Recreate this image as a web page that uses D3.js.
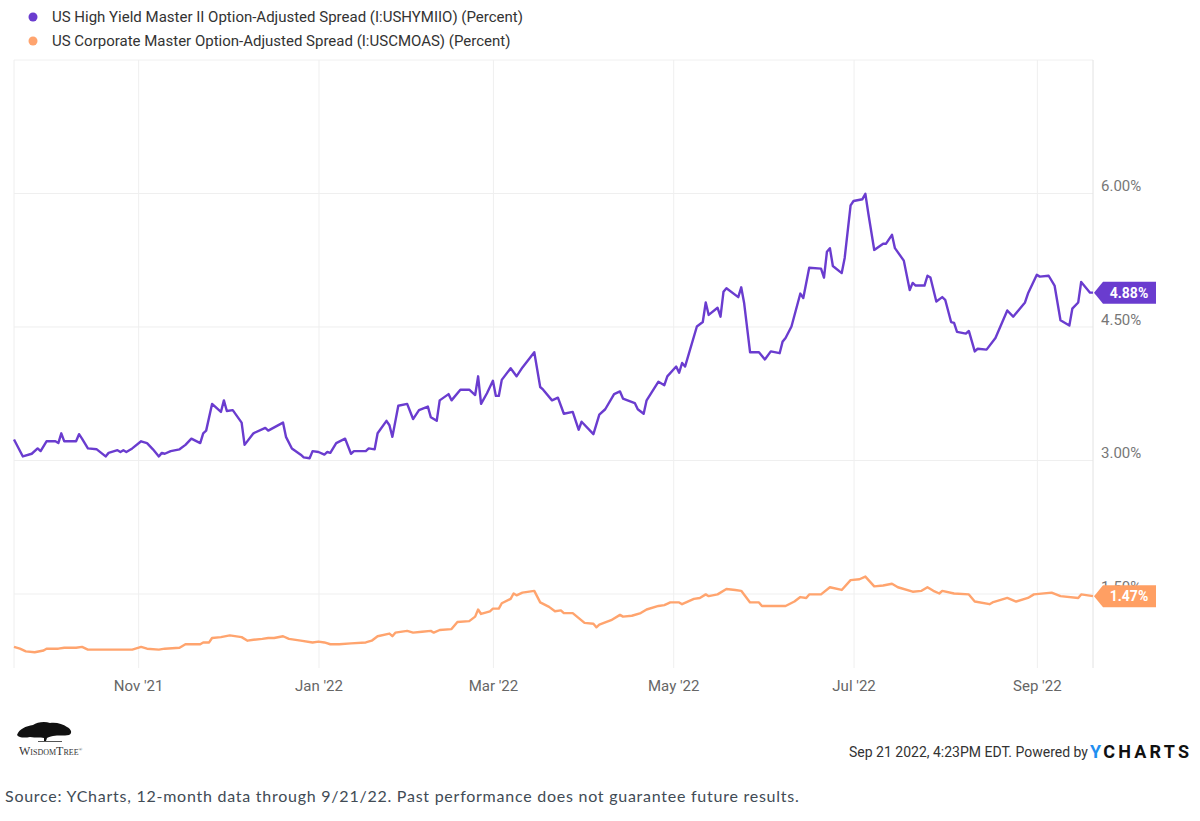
<!DOCTYPE html>
<html>
<head>
<meta charset="utf-8">
<script src="https://cdn.jsdelivr.net/npm/d3@7"></script>
<style>
  body { margin: 0; background: #fff; }
  svg { display: block; font-family: Roboto, "Noto Sans", sans-serif; }
</style>
</head>
<body>
<div id="wrapper"></div>
<script>
// 1. Data

const seriesNames = [
  "US High Yield Master II Option-Adjusted Spread (I:USHYMIIO) (Percent)",
  "US Corporate Master Option-Adjusted Spread (I:USCMOAS) (Percent)",
]

const hyDates = [
  "2021-09-20","2021-09-23","2021-09-26","2021-09-28","2021-09-29","2021-10-01","2021-10-04","2021-10-05",
  "2021-10-06","2021-10-07","2021-10-11","2021-10-12","2021-10-13","2021-10-15","2021-10-18","2021-10-21",
  "2021-10-22","2021-10-25","2021-10-26","2021-10-27","2021-10-28","2021-10-30","2021-11-02","2021-11-04",
  "2021-11-06","2021-11-08","2021-11-09","2021-11-10","2021-11-12","2021-11-15","2021-11-17","2021-11-19",
  "2021-11-22","2021-11-23","2021-11-24","2021-11-26","2021-11-29","2021-11-30","2021-12-01","2021-12-03",
  "2021-12-06","2021-12-07","2021-12-10","2021-12-14","2021-12-15","2021-12-20","2021-12-21","2021-12-23",
  "2021-12-26","2021-12-27","2021-12-29","2021-12-30","2022-01-01","2022-01-03","2022-01-04","2022-01-05",
  "2022-01-07","2022-01-10","2022-01-12","2022-01-13","2022-01-17","2022-01-18","2022-01-20","2022-01-21",
  "2022-01-24","2022-01-25","2022-01-26","2022-01-28","2022-01-31","2022-02-02","2022-02-04","2022-02-07",
  "2022-02-08","2022-02-10","2022-02-11","2022-02-14","2022-02-15","2022-02-18","2022-02-21","2022-02-23",
  "2022-02-24","2022-02-25","2022-02-27","2022-03-01","2022-03-02","2022-03-03","2022-03-04","2022-03-07",
  "2022-03-09","2022-03-11","2022-03-15","2022-03-17","2022-03-18","2022-03-21","2022-03-23","2022-03-25",
  "2022-03-28","2022-03-30","2022-03-31","2022-04-04","2022-04-06","2022-04-08","2022-04-11","2022-04-13",
  "2022-04-14","2022-04-18","2022-04-19","2022-04-21","2022-04-22","2022-04-26","2022-04-28","2022-04-29",
  "2022-05-02","2022-05-03","2022-05-04","2022-05-05","2022-05-09","2022-05-11","2022-05-12","2022-05-13",
  "2022-05-16","2022-05-17","2022-05-18","2022-05-19","2022-05-23","2022-05-24","2022-05-25","2022-05-27",
  "2022-05-30","2022-06-01","2022-06-03","2022-06-06","2022-06-07","2022-06-08","2022-06-10","2022-06-13",
  "2022-06-14","2022-06-16","2022-06-20","2022-06-21","2022-06-22","2022-06-23","2022-06-24","2022-06-27",
  "2022-06-28","2022-06-30","2022-07-01","2022-07-04","2022-07-05","2022-07-06","2022-07-08","2022-07-11",
  "2022-07-12","2022-07-14","2022-07-15","2022-07-18","2022-07-20","2022-07-21","2022-07-22","2022-07-25",
  "2022-07-26","2022-07-27","2022-07-29","2022-07-31","2022-08-01","2022-08-03","2022-08-04","2022-08-05",
  "2022-08-08","2022-08-09","2022-08-11","2022-08-12","2022-08-15","2022-08-18","2022-08-22","2022-08-24",
  "2022-08-28","2022-08-29","2022-09-01","2022-09-02","2022-09-05","2022-09-07","2022-09-09","2022-09-12",
  "2022-09-13","2022-09-15","2022-09-16","2022-09-19","2022-09-20",
]
const hyValues = [
  3.23,3.04,3.07,3.13,3.10,3.21,3.21,3.19,
  3.30,3.21,3.21,3.29,3.24,3.13,3.12,3.04,
  3.08,3.11,3.09,3.11,3.09,3.13,3.21,3.19,
  3.12,3.04,3.08,3.07,3.10,3.12,3.17,3.24,
  3.19,3.30,3.33,3.63,3.54,3.67,3.55,3.56,
  3.42,3.17,3.30,3.36,3.33,3.42,3.26,3.13,
  3.06,3.03,3.02,3.10,3.09,3.06,3.09,3.08,
  3.19,3.24,3.07,3.10,3.10,3.13,3.12,3.30,
  3.44,3.39,3.26,3.61,3.63,3.46,3.56,3.60,
  3.48,3.44,3.67,3.74,3.67,3.79,3.79,3.73,
  3.94,3.63,3.75,3.89,3.72,3.72,3.90,4.03,
  3.94,4.04,4.21,3.82,3.79,3.67,3.70,3.52,
  3.54,3.34,3.43,3.29,3.51,3.57,3.74,3.77,
  3.69,3.64,3.57,3.52,3.67,3.88,3.84,3.94,
  4.05,3.98,4.09,4.05,4.50,4.55,4.77,4.63,
  4.71,4.61,4.89,4.93,4.83,4.94,4.76,4.21,
  4.21,4.13,4.22,4.20,4.33,4.37,4.50,4.87,
  4.82,5.16,5.15,5.05,5.34,5.38,5.18,5.10,
  5.27,5.86,5.91,5.93,5.99,5.77,5.36,5.43,
  5.43,5.53,5.38,5.24,4.91,4.99,4.96,4.96,
  5.07,5.05,4.78,4.83,4.80,4.55,4.54,4.44,
  4.42,4.45,4.22,4.25,4.24,4.37,4.68,4.61,
  4.77,4.87,5.08,5.06,5.07,4.96,4.57,4.51,
  4.70,4.77,5.00,4.88,4.88,
]

const igDates = [
  "2021-09-20","2021-09-22","2021-09-24","2021-09-27","2021-09-30","2021-10-01","2021-10-05","2021-10-07",
  "2021-10-11","2021-10-13","2021-10-15","2021-10-30","2021-11-02","2021-11-04","2021-11-08","2021-11-10",
  "2021-11-15","2021-11-17","2021-11-22","2021-11-23","2021-11-25","2021-11-26","2021-11-29","2021-12-02",
  "2021-12-06","2021-12-08","2021-12-10","2021-12-13","2021-12-15","2021-12-17","2021-12-20","2021-12-22",
  "2021-12-26","2021-12-30","2022-01-01","2022-01-03","2022-01-05","2022-01-08","2022-01-12","2022-01-17",
  "2022-01-19","2022-01-21","2022-01-25","2022-01-26","2022-01-27","2022-01-31","2022-02-02","2022-02-05",
  "2022-02-08","2022-02-09","2022-02-11","2022-02-15","2022-02-17","2022-02-21","2022-02-23","2022-02-24",
  "2022-02-25","2022-02-28","2022-03-01","2022-03-03","2022-03-04","2022-03-07","2022-03-08","2022-03-09",
  "2022-03-11","2022-03-15","2022-03-17","2022-03-20","2022-03-22","2022-03-24","2022-03-25","2022-03-28",
  "2022-04-01","2022-04-04","2022-04-05","2022-04-06","2022-04-10","2022-04-13","2022-04-14","2022-04-17",
  "2022-04-20","2022-04-22","2022-04-26","2022-04-28","2022-04-30","2022-05-03","2022-05-04","2022-05-08",
  "2022-05-10","2022-05-12","2022-05-13","2022-05-16","2022-05-19","2022-05-22","2022-05-24","2022-05-27",
  "2022-05-30","2022-05-31","2022-06-05","2022-06-08","2022-06-11","2022-06-13","2022-06-15","2022-06-16",
  "2022-06-20","2022-06-23","2022-06-27","2022-06-30","2022-07-03","2022-07-05","2022-07-08","2022-07-11",
  "2022-07-14","2022-07-16","2022-07-21","2022-07-24","2022-07-26","2022-07-28","2022-07-30","2022-07-31",
  "2022-08-04","2022-08-09","2022-08-11","2022-08-16","2022-08-17","2022-08-22","2022-08-25","2022-08-29",
  "2022-08-31","2022-09-06","2022-09-09","2022-09-15","2022-09-16","2022-09-20",
]
const igValues = [
  0.90,0.88,0.85,0.84,0.86,0.88,0.88,0.89,
  0.89,0.90,0.87,0.87,0.90,0.88,0.87,0.88,
  0.89,0.93,0.93,0.95,0.95,1.00,1.01,1.03,
  1.01,0.97,0.98,0.99,1.00,1.00,1.02,0.99,
  0.97,0.95,0.96,0.95,0.93,0.93,0.94,0.95,
  0.97,1.02,1.05,1.02,1.06,1.08,1.06,1.07,
  1.08,1.06,1.09,1.10,1.18,1.19,1.24,1.32,
  1.27,1.30,1.33,1.33,1.39,1.44,1.50,1.48,
  1.51,1.53,1.40,1.35,1.30,1.31,1.28,1.28,
  1.17,1.16,1.12,1.15,1.20,1.26,1.24,1.25,
  1.28,1.32,1.36,1.37,1.40,1.40,1.38,1.44,
  1.45,1.49,1.47,1.49,1.55,1.54,1.53,1.40,
  1.40,1.36,1.36,1.36,1.41,1.46,1.45,1.49,
  1.49,1.57,1.54,1.65,1.66,1.69,1.58,1.59,
  1.61,1.57,1.52,1.53,1.57,1.53,1.50,1.53,
  1.50,1.49,1.41,1.38,1.40,1.45,1.41,1.45,
  1.49,1.51,1.47,1.45,1.49,1.47,
]

const seriesColors = ["#6a3ccf", "#ffa46e"]
const tagColors = ["#6a3ccf", "#ff9f63"]
const yTicks = [1.5, 3, 4.5, 6]
const xTicks = ["2021-11-01", "2022-01-01", "2022-03-01", "2022-05-01", "2022-07-01", "2022-09-01"]
const xDomain = ["2021-09-20", "2022-09-20"]
const yDomain = [0.663, 7.494]

async function drawChart() {

  const parseDate = d3.utcParse("%Y-%m-%d")
  const series = [
    { name: seriesNames[0], color: seriesColors[0], tag: tagColors[0],
      points: hyDates.map((d, i) => ({ date: parseDate(d), value: hyValues[i] })) },
    { name: seriesNames[1], color: seriesColors[1], tag: tagColors[1],
      points: igDates.map((d, i) => ({ date: parseDate(d), value: igValues[i] })) },
  ]

  // 2. Chart dimensions

  let dimensions = {
    width: 1200,
    height: 821,
    margin: { top: 60, right: 107, bottom: 153, left: 14 },
  }
  dimensions.boundedWidth = dimensions.width - dimensions.margin.left - dimensions.margin.right
  dimensions.boundedHeight = dimensions.height - dimensions.margin.top - dimensions.margin.bottom

  // 3. Canvas

  const wrapper = d3.select("#wrapper")
    .append("svg")
      .attr("width", dimensions.width)
      .attr("height", dimensions.height)

  const bounds = wrapper.append("g")
      .attr("transform", `translate(${dimensions.margin.left}, ${dimensions.margin.top})`)

  // 4. Scales

  const xScale = d3.scaleUtc()
    .domain(xDomain.map(parseDate))
    .range([0, dimensions.boundedWidth])

  const yScale = d3.scaleLinear()
    .domain(yDomain)
    .range([dimensions.boundedHeight, 0])

  // frame lines
  bounds.append("line")
      .attr("x1", 0).attr("x2", dimensions.boundedWidth)
      .attr("y1", 0).attr("y2", 0)
      .attr("stroke", "#f0f0f0")
  bounds.append("line")
      .attr("x1", 0).attr("x2", 0)
      .attr("y1", 0).attr("y2", dimensions.boundedHeight)
      .attr("stroke", "#eeeeee")

  // 5. Axes / gridlines

  const xAxisGenerator = d3.axisBottom(xScale)
    .tickValues(xTicks.map(parseDate))
    .tickSize(dimensions.boundedHeight)
    .tickPadding(12)
    .tickFormat(d3.utcFormat("%b '%y"))

  const xAxis = bounds.append("g")
      .attr("class", "x-axis")
      .call(xAxisGenerator)
  xAxis.select(".domain").remove()
  xAxis.selectAll(".tick line").attr("stroke", "#efefef")
  xAxis.selectAll(".tick text")
      .attr("fill", "#666")
      .style("font-size", "15px")
      .style("font-family", "Roboto, sans-serif")

  const yAxisGenerator = d3.axisRight(yScale)
    .tickValues(yTicks)
    .tickSize(-dimensions.boundedWidth)
    .tickPadding(8)
    .tickFormat(d => d3.format(".2f")(d) + "%")

  const yAxis = bounds.append("g")
      .attr("class", "y-axis")
      .attr("transform", `translate(${dimensions.boundedWidth}, 0)`)
      .call(yAxisGenerator)
  yAxis.select(".domain").remove()
  yAxis.selectAll(".tick line").attr("stroke", "#efefef")
  yAxis.selectAll(".tick text")
      .attr("x", 8)
      .attr("y", -7)
      .attr("fill", "#777")
      .style("font-size", "15px")
      .style("font-family", "Roboto, sans-serif")

  bounds.append("line")
      .attr("x1", dimensions.boundedWidth).attr("x2", dimensions.boundedWidth)
      .attr("y1", 0).attr("y2", dimensions.boundedHeight)
      .attr("stroke", "#e2e2e2")

  // 6. Lines

  const lineGenerator = d3.line()
    .x(d => xScale(d.date))
    .y(d => yScale(d.value))

  bounds.selectAll(".series")
    .data(series.slice().reverse())
    .join("path")
      .attr("class", "series")
      .attr("d", d => lineGenerator(d.points))
      .attr("fill", "none")
      .attr("stroke", d => d.color)
      .attr("stroke-width", 2.4)
      .attr("stroke-linejoin", "round")

  // last-value tags
  const tags = bounds.selectAll(".tag")
    .data(series)
    .join("g")
      .attr("class", "tag")
      .attr("transform", d => {
        const last = d.points[d.points.length - 1]
        return `translate(${xScale(last.date)}, ${yScale(last.value)})`
      })

  tags.append("path")
      .attr("d", "M1,0 L10,-11 L63,-11 L63,11 L10,11 Z")
      .attr("fill", d => d.tag)

  tags.append("text")
      .attr("x", 36)
      .attr("dy", "0.35em")
      .attr("text-anchor", "middle")
      .attr("fill", "#fff")
      .style("font-size", "14px")
      .style("font-weight", "bold")
      .text(d => d3.format(".2f")(d.points[d.points.length - 1].value) + "%")

  // 7. Legend

  const legend = wrapper.append("g")
      .attr("class", "legend")
    .selectAll("g")
    .data(series)
    .join("g")
      .attr("transform", (d, i) => `translate(33, ${17 + i * 24})`)

  legend.append("circle")
      .attr("r", 4.5)
      .attr("fill", d => d.color)

  legend.append("text")
      .attr("x", 19)
      .attr("dy", "0.35em")
      .attr("fill", "#333")
      .style("font-size", "15px")
      .text(d => d.name)

  // 8. Footer

  const logo = wrapper.append("g").attr("class", "wisdomtree")
  logo.append("path")
      .attr("d", "M17,735 C19,729 26,726 33,725 C37,722 45,721 50,723 C56,722 63,724 67,727 C71,729 73,733 69,735 C64,736 58,735 53,736 C50,737 48,737 47,738 L46,741 L44,741 L44,738 C40,737 36,738 30,737 C25,738 19,738 17,735 Z")
      .attr("fill", "#111")
  logo.append("line")
      .attr("x1", 38).attr("x2", 62)
      .attr("y1", 741.5).attr("y2", 741.5)
      .attr("stroke", "#555")
      .attr("stroke-width", 1)
  logo.append("text")
      .attr("x", 19)
      .attr("y", 755)
      .attr("fill", "#333")
      .style("font-family", "'Liberation Serif', 'DejaVu Serif', serif")
      .style("font-size", "12px")
      .style("font-variant", "small-caps")
      .text("WisdomTree")
    .append("tspan")
      .attr("dy", -4)
      .style("font-size", "5px")
      .text("®")

  wrapper.append("text")
      .attr("x", 1088)
      .attr("y", 752)
      .attr("dy", "0.35em")
      .attr("text-anchor", "end")
      .attr("fill", "#333")
      .style("font-size", "14px")
      .text("Sep 21 2022, 4:23PM EDT. Powered by")

  const ycharts = wrapper.append("text")
      .attr("x", 1090)
      .attr("y", 752)
      .attr("dy", "0.36em")
      .style("font-size", "18px")
      .style("font-weight", "bold")
  ycharts.append("tspan")
      .attr("fill", "#1f8ff0")
      .text("Y")
  ycharts.append("tspan")
      .attr("fill", "#111")
      .attr("dx", 2)
      .style("letter-spacing", "3.2px")
      .text("CHARTS")

  wrapper.append("text")
      .attr("x", 5)
      .attr("y", 802)
      .attr("fill", "#414b55")
      .style("font-family", "Lato, 'Open Sans', sans-serif")
      .style("font-size", "16px")
      .style("letter-spacing", "0.75px")
      .text("Source: YCharts, 12-month data through 9/21/22. Past performance does not guarantee future results.")
}
drawChart()
</script>
</body>
</html>
